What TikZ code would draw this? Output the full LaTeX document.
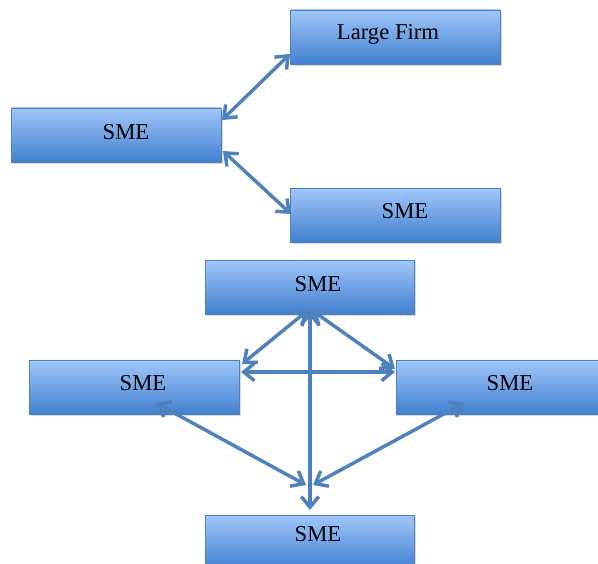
\documentclass[tikz,border=0pt]{standalone}
\usepackage{fontspec}
\setmainfont{Liberation Serif}
\usetikzlibrary{arrows.meta,shadows}
\definecolor{boxtop}{RGB}{160,198,250}
\definecolor{boxbot}{RGB}{66,128,207}
\definecolor{boxborder}{RGB}{79,129,189}
\definecolor{arrowcol}{RGB}{79,129,189}
\tikzset{
  smebox/.style={rectangle, draw=boxborder, line width=0.6pt,
    top color=boxtop, bottom color=boxbot, inner sep=0pt,
    minimum width=157pt, minimum height=40.5pt,
    drop shadow={shadow xshift=1pt, shadow yshift=-1.5pt, opacity=0.3}},
  wideboxF/.style={smebox, minimum width=180pt},
  boxtext/.style={inner sep=0pt, font=\fontsize{17}{19}\selectfont, text=black},
  link/.style={draw=arrowcol, line width=2.6pt,
    {Straight Barb[length=8pt,width=13pt,line width=2.6pt]}-{Straight Barb[length=8pt,width=13pt,line width=2.6pt]}}
}
\begin{document}
\begin{tikzpicture}[x=0.75pt,y=-0.75pt]
\fill[white] (0,0) rectangle (598,563);
\useasboundingbox (0,0) rectangle (598,563);
% boxes
\node[smebox] (A) at (395.5,37) {};
\node[smebox] (B) at (116.5,135) {};
\node[smebox] (C) at (395.5,215) {};
\node[smebox] (D) at (310,287) {};
\node[smebox] (E) at (134.5,387) {};
\node[wideboxF] (F) at (516,387) {};
\node[smebox] (G) at (310,542) {};
% texts
\node[boxtext] (tA) at (388,34) {Large Firm};
\node[boxtext] (tB) at (126,132) {SME};
\node[boxtext] (tC) at (405,211) {SME};
\node[boxtext] (tD) at (318,284) {SME};
\node[boxtext] (tE) at (143,383) {SME};
\node[boxtext] (tF) at (510,383) {SME};
\node[boxtext] (tG) at (318,534) {SME};
% connector end points
\coordinate (b1) at (222,120);
\coordinate (a1) at (290,54);
\coordinate (b2) at (223,151);
\coordinate (c1) at (291,214);
\coordinate (d1) at (307,311);
\coordinate (d2) at (310,311);
\coordinate (d3) at (313,311);
\coordinate (e1) at (242,364);
\coordinate (e2) at (241,372);
\coordinate (e3) at (156,403);
\coordinate (f1) at (395,369);
\coordinate (f2) at (395,372);
\coordinate (f3) at (464,403);
\coordinate (m1) at (306,485);
\coordinate (m2) at (313,485);
\coordinate (g1) at (310,510);
% connectors
\draw[link] (b1) -- (a1);
\draw[link] (b2) -- (c1);
\draw[link] (d1) -- (e1);
\draw[link] (d3) -- (f1);
\draw[link] (e2) -- (f2);
\draw[link] (d2) -- (g1);
\draw[link] (e3) -- (m1);
\draw[link] (f3) -- (m2);
\end{tikzpicture}
\end{document}
